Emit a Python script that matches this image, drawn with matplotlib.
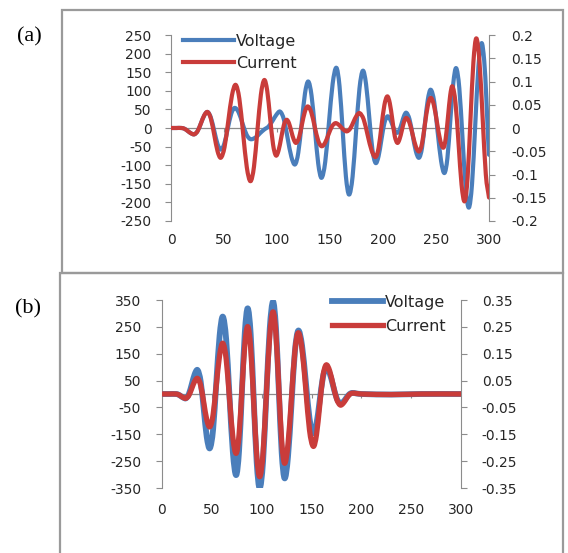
import matplotlib
matplotlib.use("Agg")
import matplotlib.pyplot as plt
from matplotlib.patches import Rectangle, PathPatch
from matplotlib.path import Path
from matplotlib.lines import Line2D

plt.rcParams['axes.unicode_minus'] = False
plt.rcParams['font.family'] = ['DejaVu Sans']

# ---------------- data: panel (a) ----------------
ta_v = [0, 5, 10, 13, 16, 19, 22, 25.1, 28.3, 31.4, 34.5, 37.6, 40.8, 43.9, 47, 50.3, 53.5, 56.8, 60,
        63.8, 67.5, 71.3, 75, 80, 84, 88, 92, 96, 99.5, 103, 106.5, 110, 113.5, 117, 120.1, 123.3, 126.4,
        129.5, 132.6, 135.8, 138.9, 142, 145.5, 149, 152.5, 156, 159, 162, 165, 168, 171.3, 174.5, 177.8,
        181, 184, 187, 190, 193, 195.8, 198.5, 201.3, 204, 206.4, 208.8, 211.1, 213.5, 215.6, 217.8, 219.9,
        222, 225, 228, 231, 234, 236.8, 239.5, 242.3, 245, 248.3, 251.5, 254.8, 258, 260.8, 263.5, 266.3,
        269, 272, 275, 278, 281, 284, 287, 290, 293, 295.5, 297.5, 299, 300]
voltage_a = [0, 0, 0, -2.5, -8.5, -14.5, -17, -8, 13, 34, 43, 28, -7.5, -43, -58, -42, -2, 38, 54,
             42, 12, -18, -30, -25, -14, -4, 4, 20, 36, 44, 23, -27, -77, -98, -66, 13.5, 93,
             125, 87, -4.5, -96, -134, -91, 14, 119, 162, 112, -8.5, -130, -179, -131, -12.5, 106,
             154, 118, 30, -58, -94, -76, -31.5, 13, 31, 25, 9, -7, -13, -5, 14, 33,
             41, 23.5, -19.5, -62.5, -80, -53.5, 11.5, 76.5, 103, 70.5, -9, -88.5, -121, -80, 20, 120,
             161, 107, -26.5, -160, -214, -150, 7, 164, 228, 180, 80, -20, -72]

ta_c = [0, 5, 10, 13, 16, 19, 22, 25.1, 28.3, 31.4, 34.5, 37.6, 40.8, 43.9, 47, 50.5, 54, 57.5, 61,
        64.5, 68, 71.5, 75, 78.3, 81.5, 84.8, 88, 90.8, 93.5, 96.3, 99, 101.5, 104, 106.5, 109, 111.3,
        113.5, 115.8, 118, 120.8, 123.5, 126.3, 129, 132.3, 135.5, 138.8, 142, 145.3, 148.5, 151.8, 155,
        157.8, 160.5, 163.3, 166, 169, 172, 175, 178, 181.8, 185.5, 189.3, 193, 195.8, 198.5, 201.3, 204,
        206.4, 208.8, 211.1, 213.5, 215.6, 217.8, 219.9, 222, 225, 228, 231, 234, 236.8, 239.5, 242.3, 245,
        248, 251, 254, 257, 259.1, 261.3, 263.4, 265.5, 268.4, 271.3, 274.1, 277, 279.8, 282.5, 285.3, 288,
        291, 294, 297, 300]
current_a = [0, 0, 0, -0.002, -0.0068, -0.0116, -0.0136, -0.0066, 0.0104, 0.0274, 0.0344, 0.0202, -0.0148,
             -0.0498, -0.064, -0.0413, 0.0144, 0.0701, 0.0928, 0.0627, -0.0108, -0.0843, -0.1144, -0.0829,
             -0.0056, 0.0717, 0.1032, 0.0797, 0.022, -0.0357, -0.0592, -0.0481, -0.0208, 0.0065, 0.0176,
             0.0104, -0.0072, -0.0248, -0.032, -0.0206, 0.0072, 0.035, 0.0464, 0.034, 0.0036, -0.0268,
             -0.0392, -0.032, -0.0144, 0.0032, 0.0104, 0.0078, 0.0016, -0.0046, -0.0072, -0.0015, 0.0124,
             0.0263, 0.032, 0.0183, -0.0152, -0.0487, -0.0624, -0.0435, 0.0028, 0.0491, 0.068, 0.0535,
             0.018, -0.0175, -0.032, -0.0242, -0.0052, 0.0138, 0.0216, 0.0112, -0.0144, -0.04, -0.0504,
             -0.0337, 0.0072, 0.0481, 0.0648, 0.0493, 0.0112, -0.0269, -0.0424, -0.0232, 0.0236, 0.0704,
             0.0896, 0.0538, -0.034, -0.1218, -0.1576, -0.1068, 0.0176, 0.142, 0.1928, 0.1431, 0.0216,
             -0.0999, -0.1496]

# ---------------- data: panel (b) ----------------
tb = [0, 7, 14, 16.5, 19, 21.5, 24, 26.9, 29.9, 32.8, 35.7, 38.8, 41.9, 44.9, 48, 51.3, 54.5, 57.8, 61,
      64.4, 67.7, 71.1, 74.4, 77.3, 80.2, 83.1, 86, 89, 92, 95, 98, 101.4, 104.7, 108.1, 111.4, 114.3,
      117.2, 120.1, 123, 126.4, 129.9, 133.3, 136.7, 140.5, 144.3, 148, 151.8, 155, 158.2, 161.4, 164.6,
      168.2, 171.7, 175.3, 178.8, 181.8, 184.7, 187.7, 190.6, 195, 200, 230, 260, 300]
voltage_b = [0, 0, 0, -2.3, -8, -13.7, -16, -0.8, 36.5, 73.8, 89, 46.8, -56.5, -159.8, -202, -131, 43, 217,
             288, 202.5, -7, -216.5, -302, -212, 8.5, 229, 319, 221.9, -16, -253.9, -351, -250.2, -3.5,
             243.2, 344, 248.6, 15, -218.6, -314, -234.3, -39, 156.3, 236, 180.6, 45, -90.6, -146, -110.9,
             -25, 60.9, 96, 77, 30.5, -16, -35, -29.3, -15.5, -1.7, 4, 2, 0, -2, 0, 0]
current_b = [0, 0, 0, -0.0023, -0.008, -0.0137, -0.016, -0.0053, 0.021, 0.0473, 0.058, 0.0319, -0.032,
             -0.0959, -0.122, -0.0769, 0.0335, 0.1439, 0.189, 0.1296, -0.016, -0.1616, -0.221, -0.1526,
             0.015, 0.1826, 0.251, 0.17, -0.0285, -0.227, -0.308, -0.219, -0.001, 0.217, 0.306, 0.2242,
             0.024, -0.1762, -0.258, -0.1875, -0.015, 0.1575, 0.228, 0.1667, 0.0165, -0.1337, -0.195,
             -0.1511, -0.0435, 0.0641, 0.108, 0.0864, 0.0335, -0.0194, -0.041, -0.0346, -0.019, -0.0034,
             0.003, 0.002, 0, -0.002, 0, 0]

# ---------------- tick labels ----------------
x_ticks = [0, 50, 100, 150, 200, 250, 300]
a_left_ticks = [250, 200, 150, 100, 50, 0, -50, -100, -150, -200, -250]
a_right_ticks = [0.2, 0.15, 0.1, 0.05, 0, -0.05, -0.1, -0.15, -0.2]
a_right_labels = ["0.2", "0.15", "0.1", "0.05", "0", "-0.05", "-0.1", "-0.15", "-0.2"]
b_left_ticks = [350, 250, 150, 50, -50, -150, -250, -350]
b_right_ticks = [0.35, 0.25, 0.15, 0.05, -0.05, -0.15, -0.25, -0.35]
b_right_labels = ["0.35", "0.25", "0.15", "0.05", "-0.05", "-0.15", "-0.25", "-0.35"]

W, H = 568, 553
fig = plt.figure(figsize=(W / 100, H / 100), dpi=100)
fig.patch.set_facecolor("white")

BLUE = "#4A7EBB"
RED = "#C93C3A"
GRAY = "#8C8C8C"
TXT = "#262626"
FS = 10


def smooth_line(ax, x, y, color, lw):
    """Excel-style smoothed line: a cubic Bezier path passing through every data point."""
    n = len(x)
    verts = [(x[0], y[0])]
    codes = [Path.MOVETO]
    slopes = []
    for i in range(n):
        i0, i1 = max(i - 1, 0), min(i + 1, n - 1)
        slopes.append((y[i1] - y[i0]) / (x[i1] - x[i0]))
    for i in range(n - 1):
        dx = x[i + 1] - x[i]
        verts += [(x[i] + dx / 3, y[i] + slopes[i] * dx / 3),
                  (x[i + 1] - dx / 3, y[i + 1] - slopes[i + 1] * dx / 3),
                  (x[i + 1], y[i + 1])]
        codes += [Path.CURVE4, Path.CURVE4, Path.CURVE4]
    patch = PathPatch(Path(verts, codes), fill=False, edgecolor=color, lw=lw,
                      joinstyle="round", capstyle="round", zorder=3)
    ax.add_patch(patch)
    return Line2D([], [], color=color, lw=lw)


def fbox(x0, y0, x1, y1):
    return [x0 / W, 1 - y1 / H, (x1 - x0) / W, (y1 - y0) / H]


def setup(ax, ax2, ylim, yticks, y2lim, y2ticks, y2labels, xpad, lpad, rpad):
    ax.set_xlim(0, 300)
    ax.set_ylim(*ylim)
    ax2.set_ylim(*y2lim)
    ax.set_yticks(yticks)
    ax.set_yticklabels([str(v) for v in yticks])
    ax2.set_yticks(y2ticks)
    ax2.set_yticklabels(y2labels)
    ax.set_xticks(x_ticks)
    ax.set_xticklabels([str(v) for v in x_ticks])
    for a in (ax, ax2):
        for s in ("top", "bottom"):
            a.spines[s].set_visible(False)
        a.patch.set_visible(False)
    ax.spines["right"].set_visible(False)
    ax2.spines["left"].set_visible(False)
    ax.spines["left"].set_color(GRAY)
    ax2.spines["right"].set_color(GRAY)
    ax.tick_params(axis="y", length=4, color=GRAY, labelsize=FS, labelcolor=TXT, pad=lpad)
    ax2.tick_params(axis="y", length=4, color=GRAY, labelsize=FS, labelcolor=TXT, pad=rpad)
    ax.tick_params(axis="x", length=0, labelsize=FS, labelcolor=TXT, pad=xpad)
    ax2.tick_params(axis="x", length=0, labelbottom=False)
    ax.axhline(0, color=GRAY, lw=0.9, zorder=1)
    sec = ax.secondary_xaxis(0.5)
    sec.set_xticks(x_ticks[1:-1])
    sec.set_xticklabels([""] * (len(x_ticks) - 2))
    sec.tick_params(axis="x", length=3, color=GRAY, direction="in")
    sec.spines["bottom"].set_visible(False)
    sec.spines["top"].set_visible(False)


# ---------------- panel (a) ----------------
ax_a = fig.add_axes(fbox(171, 35, 489, 221))
ax_a2 = ax_a.twinx()
setup(ax_a, ax_a2, (-250, 250), a_left_ticks, (-0.2, 0.2), a_right_ticks, a_right_labels, 9, 10, 12)
hv = smooth_line(ax_a, ta_v, voltage_a, BLUE, 3.0)
hc = smooth_line(ax_a2, ta_c, current_a, RED, 3.0)
ax_a2.legend(handles=[hv, hc], labels=["Voltage", "Current"], loc="upper left",
             bbox_to_anchor=(183 / W, 1 - 34 / H),
             bbox_transform=fig.transFigure, frameon=False, fontsize=11.5, borderpad=0,
             borderaxespad=0, handlelength=3.2, handletextpad=0.1, labelspacing=0.42,
             labelcolor=TXT)

# ---------------- panel (b) ----------------
ax_b = fig.add_axes(fbox(162, 300, 461, 488))
ax_b2 = ax_b.twinx()
setup(ax_b, ax_b2, (-350, 350), b_left_ticks, (-0.35, 0.35), b_right_ticks, b_right_labels, 11, 11, 11)
hv2 = smooth_line(ax_b, tb, voltage_b, BLUE, 4.2)
hc2 = smooth_line(ax_b2, tb, current_b, RED, 3.8)
ax_b2.legend(handles=[hv2, hc2], labels=["Voltage", "Current"], loc="upper left",
             bbox_to_anchor=(332 / W, 1 - 295 / H),
             bbox_transform=fig.transFigure, frameon=False, fontsize=11.5, borderpad=0,
             borderaxespad=0, handlelength=3.2, handletextpad=0.1, labelspacing=0.55,
             labelcolor=TXT)

# ---------------- frames & panel labels ----------------
fig.add_artist(Rectangle((62 / W, 1 - 273 / H), (563 - 62) / W, (273 - 10) / H,
                         transform=fig.transFigure, fill=False, ec="#9A9A9A", lw=1.6))
fig.add_artist(Rectangle((60 / W, 1 - 560 / H), (563 - 60) / W, (560 - 273) / H,
                         transform=fig.transFigure, fill=False, ec="#9A9A9A", lw=1.6))
fig.text(29 / W, 1 - 37 / H, "(a)", family="Liberation Serif", fontsize=16, ha="center", va="center")
fig.text(28 / W, 1 - 309 / H, "(b)", family="Liberation Serif", fontsize=16, ha="center", va="center")

fig.savefig("out.png", dpi=100, facecolor="white")
